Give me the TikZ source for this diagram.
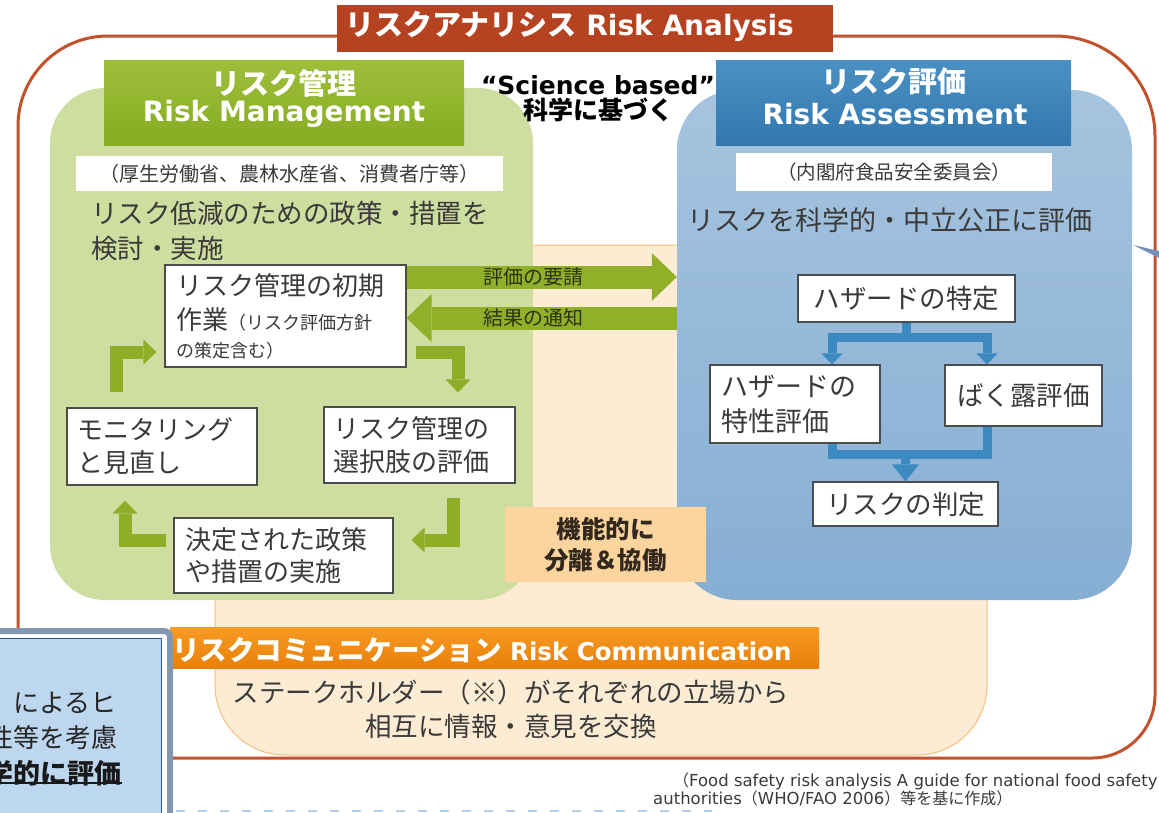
\documentclass[tikz,border=0pt]{standalone}
\usepackage{fontspec}
\setmainfont{DejaVu Sans}
\newfontfamily\jp{Noto Sans CJK JP}
\newfontfamily\en{DejaVu Sans}
\usetikzlibrary{arrows.meta,calc}
\newcommand\myfs[2]{\fontsize{#1}{#2}\selectfont}
\definecolor{redline}{RGB}{194,82,44}
\definecolor{titlered}{RGB}{181,66,32}
\definecolor{greenbg}{RGB}{207,221,161}
\definecolor{greenhdA}{RGB}{158,190,58}
\definecolor{greenhdB}{RGB}{134,172,34}
\definecolor{greenarr}{RGB}{142,174,40}
\definecolor{bigarr}{RGB}{145,176,42}
\definecolor{bluebgA}{RGB}{166,196,223}
\definecolor{bluebgB}{RGB}{134,174,211}
\definecolor{bluehdA}{RGB}{74,144,194}
\definecolor{bluehdB}{RGB}{50,120,175}
\definecolor{bluearr}{RGB}{60,138,192}
\definecolor{orangebg}{RGB}{253,236,212}
\definecolor{orangeln}{RGB}{246,190,120}
\definecolor{orangehdA}{RGB}{247,155,35}
\definecolor{orangehdB}{RGB}{232,128,10}
\definecolor{funcbox}{RGB}{252,213,158}
\definecolor{functxt}{RGB}{50,40,30}
\definecolor{txt}{RGB}{58,58,58}
\definecolor{arrtxt}{RGB}{45,50,20}
\definecolor{callfill}{RGB}{189,215,238}
\definecolor{callline}{RGB}{45,85,150}
\definecolor{callframe}{RGB}{132,151,176}
\definecolor{wedge}{RGB}{115,145,182}
\definecolor{faintblue}{RGB}{178,208,236}
\begin{document}
\begin{tikzpicture}[x=1pt,y=-1pt,
  txtn/.style={inner sep=0pt, text=txt},
  wbox/.style={draw=black!70, line width=1.1pt, fill=white, inner ysep=0pt, text=txt, align=left},
  garrow/.style={draw=greenarr, line width=13pt, -{Triangle[width=25pt,length=13pt,line width=0pt]}},
  bigarrow/.style={draw=bigarr, line width=23pt, -{Triangle[width=48pt,length=25pt,line width=0pt]}},
  barrow/.style={draw=bluearr, line width=9pt, -{Triangle[width=21pt,length=11pt,line width=0pt]}},
  barrowbig/.style={draw=bluearr, line width=9pt, -{Triangle[width=27pt,length=17pt,line width=0pt]}},
  bline/.style={draw=bluearr, line width=9pt},
  arrlabel/.style={inner sep=0pt, text=arrtxt, font={\jp\myfs{20}{24}}}
]
\useasboundingbox (0,0) rectangle (1159,812);
\clip (0,0) rectangle (1159,812);
\fill[white] (0,0) rectangle (1159,812);

% outer red frame
\draw[draw=redline, line width=3pt] (18,720) -- (18,126) arc[start angle=180,end angle=270,radius=90]
  -- (1055,36) arc[start angle=270,end angle=360,radius=100]
  -- (1155,695) arc[start angle=0,end angle=90,radius=63] -- (100,758);

% risk communication background
\node[draw=orangeln, line width=1pt, fill=orangebg, rounded corners=70pt, minimum width=772pt, minimum height=510pt, inner sep=0pt] (rcbg) at (601,500) {};

% management area
\node[fill=greenbg, rounded corners=55pt, minimum width=483pt, minimum height=512pt, inner sep=0pt] (ga) at (291.5,344) {};
% assessment area
\node[top color=bluebgA, bottom color=bluebgB, rounded corners=60pt, minimum width=455pt, minimum height=510pt, inner sep=0pt] (ra) at (904.5,345) {};

% headers
\node[top color=greenhdA, bottom color=greenhdB, minimum width=360pt, minimum height=85pt, inner sep=0pt] (gh) at (284,102.5) {};
\node[text=white, inner sep=0pt, font={\jp\bfseries\myfs{29}{34}}] (ghj) at (284,83) {リスク管理};
\node[text=white, inner sep=0pt, anchor=base, font={\en\bfseries\myfs{28}{34}}] (ghe) at (284,121) {Risk Management};

\node[top color=bluehdA, bottom color=bluehdB, minimum width=355pt, minimum height=85pt, inner sep=0pt] (bh) at (893.5,102.5) {};
\node[text=white, inner sep=0pt, font={\jp\bfseries\myfs{29}{34}}] (bhj) at (894,82) {リスク評価};
\node[text=white, inner sep=0pt, anchor=base, font={\en\bfseries\myfs{28}{34}}] (bhe) at (895,124) {Risk Assessment};

% title
\node[fill=titlered, minimum width=496pt, minimum height=47pt, inner sep=0pt] (tb) at (585,28.5) {};
\node[anchor=base west, text=white, inner sep=0pt] (tt) at (345,35) {{\jp\bfseries\myfs{29}{34}リスクアナリシス}{\en\bfseries\myfs{28}{34} Risk Analysis}};

% science based
\node[inner sep=0pt, anchor=base, font={\en\bfseries\myfs{25}{30}}] (sb) at (598,94) {“Science based”};
\node[inner sep=0pt, font={\jp\bfseries\myfs{25}{30}}] (sj) at (598,110) {科学に基づく};

% white strips
\node[fill=white, minimum width=427pt, minimum height=35pt, inner sep=0pt, text=txt, font={\jp\myfs{20}{24}}] (gs) at (289.5,173.5) {（厚生労働省、農林水産省、消費者庁等）};
\node[fill=white, minimum width=316pt, minimum height=38pt, inner sep=0pt, text=txt, font={\jp\myfs{19.5}{24}}] (bs) at (894,172) {（内閣府食品安全委員会）};

% body texts
\node[txtn, anchor=west, font={\jp\myfs{26.5}{35}}] (gt1) at (91,213) {リスク低減のための政策・措置を};
\node[txtn, anchor=west, font={\jp\myfs{26.5}{35}}] (gt2) at (91,248) {検討・実施};
\node[txtn, anchor=west, font={\jp\myfs{27}{35}}] (bt1) at (687,220) {リスクを科学的・中立公正に評価};

% management boxes
\node[wbox, minimum height=102pt, text width=219pt, inner xsep=11pt, font={\jp\myfs{26}{32}}] (init) at (285.5,316) {リスク管理の初期\\[2pt]作業{\myfs{18}{22}（リスク評価方針}\\[-4pt]{\myfs{18}{22}の策定含む）}};
\node[wbox, minimum height=77pt, text width=170pt, inner xsep=10pt, font={\jp\myfs{26}{33}}] (mon) at (162,446.5) {モニタリング\\と見直し};
\node[wbox, minimum height=76pt, text width=173pt, inner xsep=9pt, font={\jp\myfs{26}{33}}] (opt) at (419.5,445) {リスク管理の\\選択肢の評価};
\node[wbox, minimum height=75pt, text width=197pt, inner xsep=11pt, font={\jp\myfs{26}{32}}] (dec) at (283.5,555.5) {決定された政策\\や措置の実施};

% assessment boxes
\node[wbox, align=center, minimum width=217pt, minimum height=47pt, inner xsep=0pt, font={\jp\myfs{26.5}{33}}] (hz) at (906.5,298.5) {ハザードの特定};
\node[wbox, minimum height=78pt, text width=148pt, inner xsep=11pt, font={\jp\myfs{27}{35}}] (ch) at (795,404) {ハザードの\\特性評価};
\node[wbox, align=center, minimum width=157pt, minimum height=61pt, inner xsep=0pt, font={\jp\myfs{26.5}{33}}] (ex) at (1023.5,395.5) {ばく露評価};
\node[wbox, align=center, minimum width=185pt, minimum height=44pt, inner xsep=0pt, font={\jp\myfs{26.5}{33}}] (rj) at (905.5,504) {リスクの判定};

% functional box
\node[fill=funcbox, minimum width=201pt, minimum height=75pt, align=center, inner sep=0pt, text=functxt, font={\jp\bfseries\myfs{24.5}{31}}] (fb) at (605.5,544.5) {機能的に\\分離＆協働};

% risk communication header and text
\node[top color=orangehdA, bottom color=orangehdB, minimum width=649pt, minimum height=41pt, inner sep=0pt] (ch2) at (494.5,647.5) {};
\node[anchor=base west, inner sep=0pt, text=white] (cht) at (172,660) {{\jp\bfseries\myfs{27.5}{32}リスクコミュニケーション}{\en\bfseries\myfs{24.5}{30} Risk Communication}};
\node[align=center, inner sep=0pt, text=txt, font={\jp\myfs{26.5}{34}}] (cb) at (511,709) {ステークホルダー（※）がそれぞれの立場から\\相互に情報・意見を交換};

% management cycle arrows
\draw[garrow] ($(mon.north)+(-46,-15)$) |- ($(init.west)+(-8,36)$);
\draw[garrow] ($(init.east)+(9,36)$) -| ($(opt.north)+(38.5,-14)$);
\draw[garrow] ($(opt.south)+(33.5,14)$) |- ($(dec.east)+(18,-15.5)$);
\draw[garrow] ($(dec.west)+(-7,-15.5)$) -| ($(mon.south)+(-37,15)$);

% request / notification arrows
\draw[bigarrow] ([yshift=39pt]init.east) coordinate (rq) -- (rq -| ra.west) node[arrlabel, pos=0.47] (rql) {評価の要請};
\draw[bigarrow] ([yshift=-2pt]init.east -| ra.west) coordinate (nt) -- ([yshift=-2pt]init.east) node[arrlabel, pos=0.53] (ntl) {結果の通知};

% assessment flow
\draw[barrow] (hz.south) -- ++(0,15) -| ($(ch.north)+(37,0)$);
\draw[barrow] (hz.south) -- ++(0,15) -| ($(ex.north)+(-36.5,0)$);
\coordinate (mg) at ($(rj.north)+(0,-27)$);
\draw[bline] ($(ch.south)+(37,0)$) |- (mg) -| ($(ex.south)+(-36.5,0)$);
\draw[barrowbig] (mg) -- (rj.north);

% pointer wedge at right
\fill[wedge] (1133,245) -- (1159,251) -- (1159,258) -- cycle;

% footnote
\node[anchor=base west, inner sep=0pt, text=txt] (fn1) at (673,786) {{\jp\myfs{16}{20}（}{\en\myfs{16.5}{20}Food safety risk analysis A guide for national food safety}};
\node[anchor=base west, inner sep=0pt, text=txt] (fn2) at (653,804) {{\en\myfs{16.5}{20}authorities}{\jp\myfs{16}{20}（}{\en\myfs{16.5}{20}WHO/FAO 2006}{\jp\myfs{16}{20}）等を基に作成）}};

% faint cut-off line at the bottom
\draw[draw=faintblue, line width=2pt, dash pattern=on 9pt off 13pt] (176,811) -- (712,811);

% callout at bottom left
\draw[draw=callframe, line width=6pt, fill=white, rounded corners=6pt] (-20,631) rectangle (170,840);
\draw[draw=callline, line width=1.2pt, fill=callfill] (-20,638.5) rectangle (161.5,840);
\node[anchor=east, inner sep=0pt, text=black!85, font={\jp\myfs{26}{30}}] (c1) at (117,703) {によるヒ};
\node[anchor=east, inner sep=0pt, text=black!85, font={\jp\myfs{26}{30}}] (c2) at (118,738) {性等を考慮};
\node[anchor=east, inner sep=0pt, text=black!90, font={\jp\bfseries\myfs{27}{30}}] (c3) at (122,773) {科学的に評価};
\draw[line width=2pt, black!90] ([yshift=3pt]c3.south west) -- ([yshift=3pt]c3.south east);
\end{tikzpicture}
\end{document}
